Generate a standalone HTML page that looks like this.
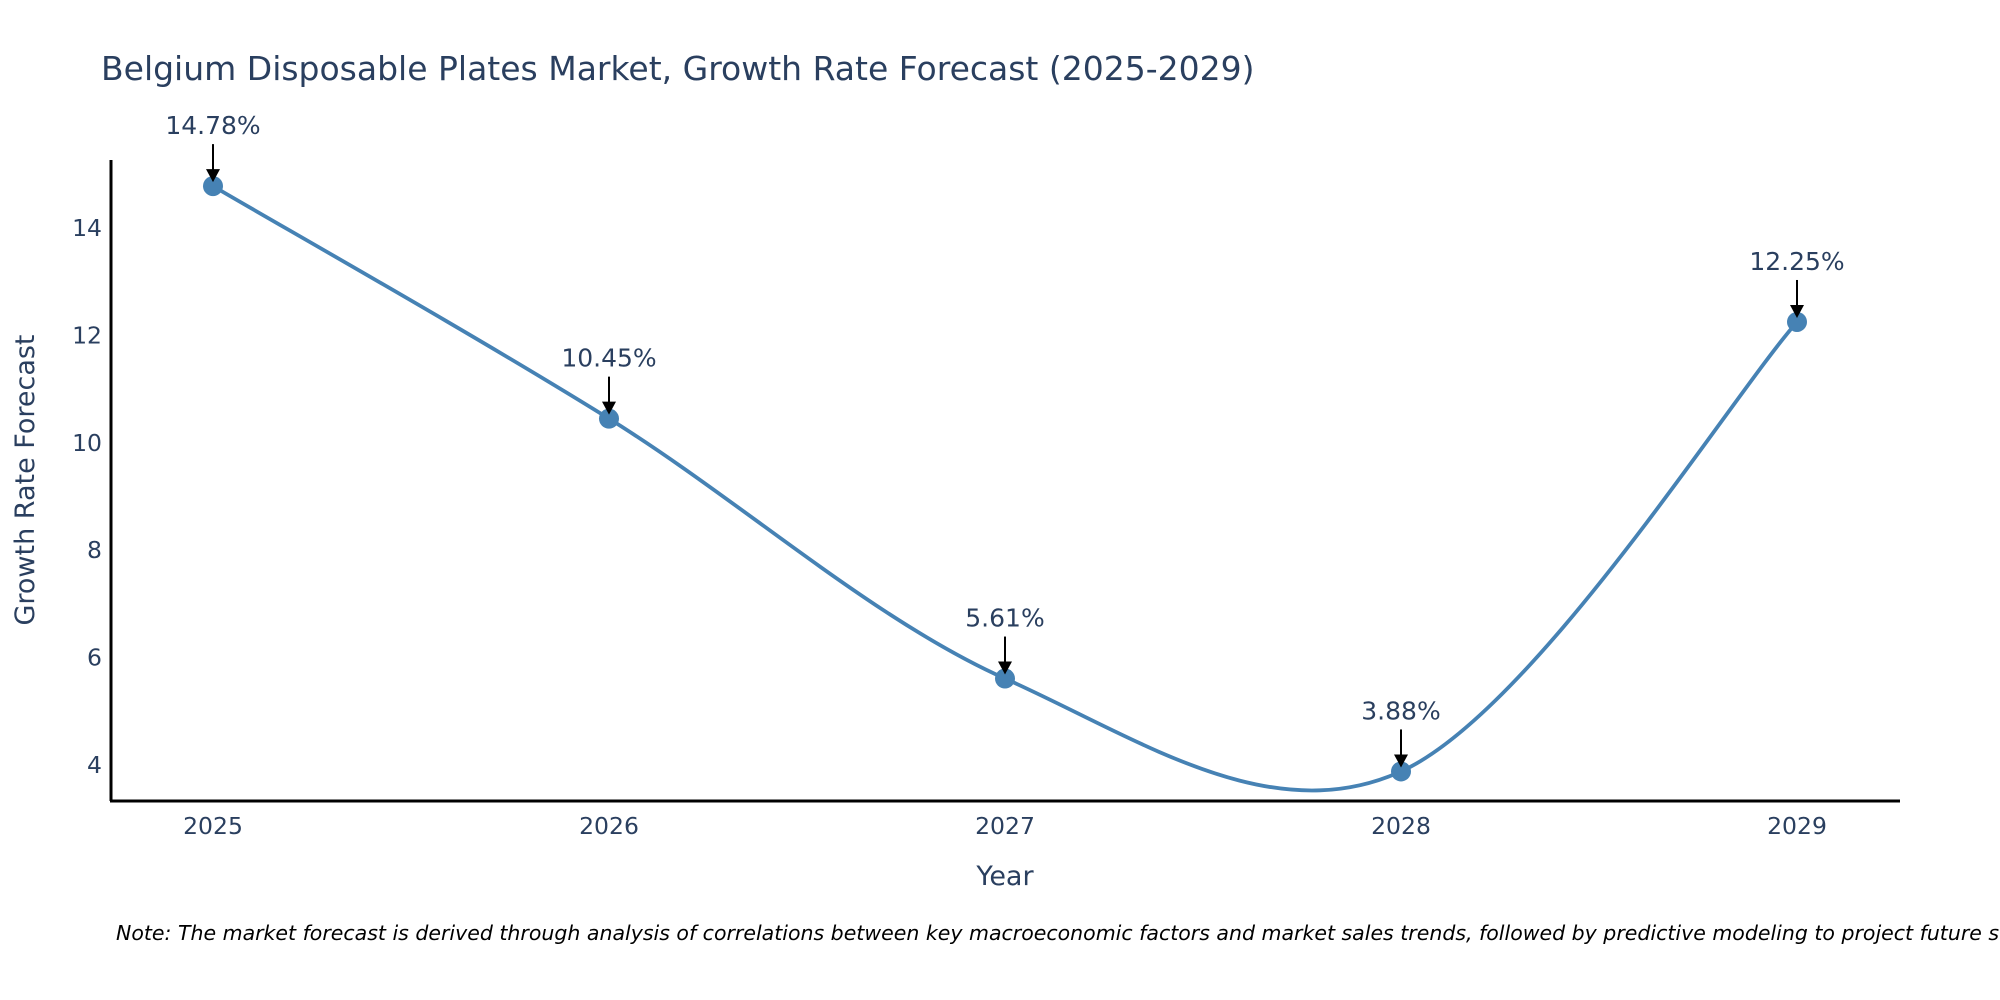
<!DOCTYPE html>
<html><head><meta charset="utf-8"><style>
body{margin:0;background:#fff;}
svg{display:block;font-family:"DejaVu Sans","Liberation Sans",sans-serif;}
</style></head><body>
<svg id="chart" width="2000" height="1000" viewBox="0 0 2000 1000">
<text x="101" y="80" font-size="33" fill="#2a3f5f">Belgium Disposable Plates Market, Growth Rate Forecast (2025-2029)</text>
<g id="yticks"></g>
<g id="xticks"></g>
<path id="line" fill="none" stroke="#4682b4" stroke-width="3.8"></path>
<g id="points"></g>
<g id="annots"></g>
<line x1="111" y1="160" x2="111" y2="801" stroke="#000" stroke-width="3"/>
<line x1="110" y1="801" x2="1900" y2="801" stroke="#000" stroke-width="3"/>
<text transform="translate(34,480) rotate(-90)" text-anchor="middle" font-size="27" fill="#2a3f5f">Growth Rate Forecast</text>
<text x="1005" y="885" text-anchor="middle" font-size="27" fill="#2a3f5f">Year</text>
<text x="116" y="940" font-size="20.5" font-style="italic" fill="#000">Note: The market forecast is derived through analysis of correlations between key macroeconomic factors and market sales trends, followed by predictive modeling to project future sales.</text>
</svg>
<script>
const years = [2025, 2026, 2027, 2028, 2029];
const rates = [14.78, 10.45, 5.61, 3.88, 12.25];
const labels = ["14.78%", "10.45%", "5.61%", "3.88%", "12.25%"];
const yTicks = [4, 6, 8, 10, 12, 14];
const NS = "http://www.w3.org/2000/svg";
function xs(v){ return 213 + (v - 2025) * (1797 - 213) / 4; }
function ys(v){ return 765 - (v - 4) * (765 - 228) / 10; }
function mk(tag, attrs, parent){ const e = document.createElementNS(NS, tag); for (const k in attrs) e.setAttribute(k, attrs[k]); parent.appendChild(e); return e; }
const yt = document.getElementById('yticks');
yTicks.forEach(t => {
  const e = mk('text', {x:102, y:ys(t)+8, 'text-anchor':'end', 'font-size':23.5, fill:'#2a3f5f'}, yt);
  
  
  e.textContent = t;
});
const xt = document.getElementById('xticks');
years.forEach(y => {
  const e = mk('text', {x:xs(y), y:834, 'text-anchor':'middle', 'font-size':23.5, fill:'#2a3f5f'}, xt);
  
  
  e.textContent = y;
});
const P = years.map((y, i) => [xs(y), ys(rates[i])]);
let d = `M${P[0][0]},${P[0][1]}`;
const k = 1/6;
for (let i = 0; i < P.length - 1; i++) {
  const p0 = P[Math.max(i-1,0)], p1 = P[i], p2 = P[i+1], p3 = P[Math.min(i+2,P.length-1)];
  const c1 = [p1[0] + (p2[0]-p0[0])*k, p1[1] + (p2[1]-p0[1])*k];
  const c2 = [p2[0] - (p3[0]-p1[0])*k, p2[1] - (p3[1]-p1[1])*k];
  d += ` C${c1[0]},${c1[1]} ${c2[0]},${c2[1]} ${p2[0]},${p2[1]}`;
}
document.getElementById('line').setAttribute('d', d);
const pts = document.getElementById('points');
const an = document.getElementById('annots');
P.forEach((p, i) => {
  const c = mk('circle', {cx:p[0], cy:p[1], r:10, fill:'#4682b4'}, pts);
  
  
  const l = mk('line', {x1:p[0], y1:p[1]-42, x2:p[0], y2:p[1]-14, stroke:'#000', 'stroke-width':2}, an);
  
  
  const h = mk('polygon', {points:`${p[0]-7},${p[1]-17} ${p[0]+7},${p[1]-17} ${p[0]},${p[1]-4}`, fill:'#000'}, an);
  
  
  const t = mk('text', {x:p[0], y:p[1]-52, 'text-anchor':'middle', 'font-size':25, fill:'#2a3f5f'}, an);
  
  
  t.textContent = labels[i];
});
</script>
</body></html>
